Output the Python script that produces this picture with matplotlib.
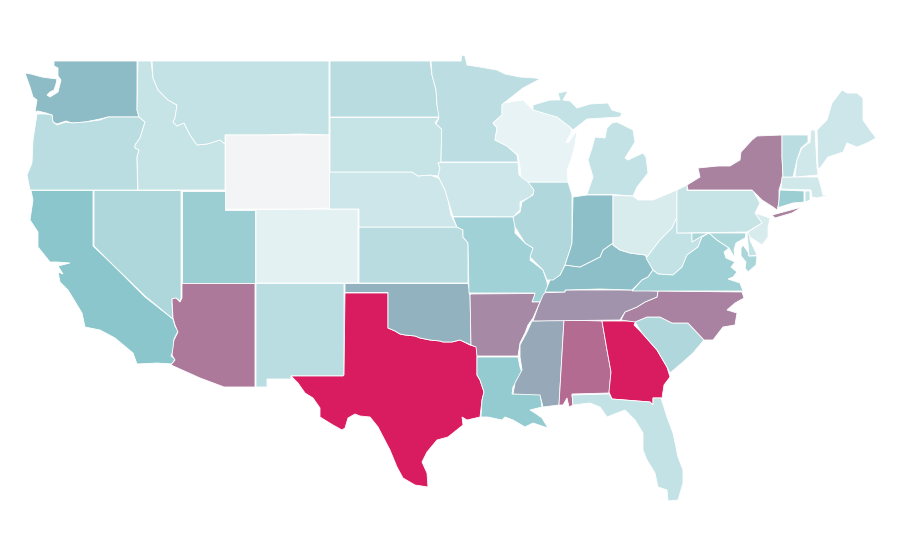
import matplotlib
matplotlib.use("Agg")
import matplotlib.pyplot as plt
from matplotlib.colors import LinearSegmentedColormap, Normalize
from matplotlib.patches import Polygon

# index value per state
states = ["WA", "OR", "CA", "NV", "ID", "MT", "WY", "UT", "CO", "AZ", "NM", "TX", "OK", "KS", "NE",
          "SD", "ND", "MN", "IA", "MO", "AR", "LA", "MS", "AL", "GA", "FL", "SC", "NC", "TN", "KY",
          "IL", "WI", "MI", "IN", "OH", "WV", "VA", "MD", "DE", "NJ", "PA", "NY", "CT", "RI", "MA",
          "VT", "NH", "ME"]
values = [34, 16.5, 30, 20, 13, 14, 0, 25, 5, 61.5, 16.5, 100, 38, 17, 11,
          13, 17, 16, 11, 23.5, 55, 27, 42, 67, 100, 14, 19.5, 57.5, 51, 33,
          19.5, 3.7, 14, 33, 8, 14, 24, 21, 14, 8, 13, 58, 25, 14, 10,
          16.5, 10, 11]

# state outlines in picture pixels; a state may have more than one piece
outlines = {
    "WA": [[(54, 61), (137, 61), (137, 110), (139, 117), (108, 117), (100, 119), (85, 122), (72, 123), (66, 121),
            (57, 124), (53, 122), (52, 115), (46, 113), (38, 111), (35, 112), (37, 100), (33, 97), (30, 87),
            (25, 73), (31, 74), (42, 77), (49, 78), (57, 79), (56, 84), (54, 90), (50, 92), (47, 95), (50, 97),
            (58, 92), (61, 80), (58, 76), (58, 68), (54, 66)]],
    "OR": [[(37, 114), (46, 114), (52, 115), (53, 122), (57, 125), (66, 122), (72, 123), (85, 122), (100, 120),
            (108, 117), (139, 117), (145, 122), (140, 138), (135, 145), (135, 148), (139, 150), (137, 157),
            (137.5, 190), (30, 190), (27, 175), (32, 163), (33, 140)]],
    "CA": [[(31, 190.5), (93, 190.5), (93, 246), (110, 262), (145, 297), (173, 319), (175, 326), (178, 331), (174, 339),
            (173, 351), (171, 356), (175, 359), (172, 364), (157, 363), (137, 364), (133, 353), (115, 338), (100, 330),
            (85, 327), (82, 313), (68, 290), (60, 282), (58, 272), (63, 274), (58, 266), (70, 263), (57, 262),
            (50, 262), (38, 247), (38, 232), (30, 220), (33, 200)]],
    "NV": [[(94, 190.5), (181, 190.5), (181, 298), (180, 301), (176, 298), (172, 299), (172, 304), (173, 319), (145, 296),
            (110, 262), (94, 246)]],
    "ID": [[(138, 61), (151, 61), (153, 78), (158, 90), (168, 100), (177, 105), (175, 118), (173, 122), (177, 126),
            (184, 123), (190, 135), (197, 145), (207, 144), (220, 140), (225, 144), (225, 190), (138, 190),
            (137, 157), (139, 150), (135, 148), (135, 145), (140, 138), (145, 122), (139, 117), (137, 110)]],
    "MT": [[(152, 61), (329, 61), (329, 135), (300, 134), (265, 135), (225, 135), (225, 144), (220, 140), (207, 144),
            (197, 145), (190, 135), (184, 123), (177, 126), (173, 122), (175, 118), (177, 105), (168, 100), (158, 90),
            (153, 78)]],
    "WY": [[(225.5, 135), (329, 135), (329.5, 208), (300, 209), (255, 209), (225.5, 209)]],
    "UT": [[(182, 190.5), (225, 190.5), (225, 209.5), (255, 209.5), (255, 283), (182, 283)]],
    "CO": [[(256, 209.5), (358, 209), (358, 283), (256, 283)]],
    "AZ": [[(182, 283.5), (255, 283.5), (255, 387), (224, 387), (200, 378), (171, 365), (175, 360), (172, 355), (174, 340),
            (178, 332), (175, 325), (173, 318), (172, 299), (176, 298), (180, 302), (182, 298)]],
    "NM": [[(256, 283.5), (344, 283.5), (344, 375), (343, 376), (291, 376), (291, 379), (267, 379), (267, 387), (256, 387)]],
    "TX": [[(345, 293), (388, 293), (388, 328), (395, 331), (400, 334), (405, 335), (415, 336), (420, 338), (430, 340),
            (440, 341), (443, 342), (452, 342), (460, 340), (470, 345), (477, 347), (477, 375), (480, 380), (484, 392),
            (482, 400), (480, 417), (467, 420), (462, 417), (463, 425), (448, 437), (437, 440), (427, 452), (422, 462),
            (427, 473), (428, 487), (415, 485), (403, 478), (397, 467), (390, 450), (378, 427), (370, 417), (360, 416),
            (355, 414), (348, 418), (345, 428), (342, 430), (333, 425), (320, 417), (320, 408), (313, 398), (305, 393),
            (298, 383), (291, 376), (343, 376), (344, 375)]],
    "OK": [[(345, 283.5), (468, 283.5), (470, 293), (471, 345), (460, 340), (452, 342), (443, 342), (440, 341), (430, 340),
            (420, 338), (415, 336), (405, 335), (400, 334), (395, 331), (388, 328), (388, 292.5), (345, 292.5)]],
    "KS": [[(359, 227), (457, 227), (463, 230), (463, 237), (468, 243), (468, 283), (359, 283)]],
    "NE": [[(329.5, 172), (412, 172), (418, 176), (430, 175), (438, 178), (440, 180), (445, 190), (448, 200), (451, 215),
            (457, 227), (359, 227), (359, 209), (329.5, 209)]],
    "SD": [[(330, 117.5), (439, 117.5), (435, 123), (441.6, 129), (441, 162), (438, 163), (440, 168), (438, 176), (430, 175),
            (418, 176), (412, 172), (330, 172)]],
    "ND": [[(330, 61), (430, 61), (432, 75), (436, 90), (437, 105), (440, 115), (439, 117), (330, 117)]],
    "MN": [[(431, 61), (461, 61), (461.6, 55), (465, 56), (467, 65), (480, 67), (497, 70), (505, 74), (520, 77), (535, 78),
            (540, 79), (523, 88), (504, 103), (502, 105), (502, 115), (493, 123), (497, 128), (495, 140), (507, 146),
            (517, 155), (518, 162), (441, 162), (441.6, 129), (436, 124), (439, 118), (437, 105), (436, 90), (432, 75)]],
    "IA": [[(441.5, 162.5), (518, 162.5), (519, 175), (528, 180), (535, 192), (530, 197), (520, 202), (520, 210), (513, 217),
            (453, 216.5), (448, 200), (445, 190), (440, 180), (438, 176), (440, 168), (438, 163)]],
    "MO": [[(453, 217), (513, 217), (515, 222), (515, 233), (525, 243), (533, 248), (530, 260), (543, 270), (547, 282),
            (548, 290), (540, 302), (532, 302), (535, 293), (469, 293), (468, 243), (463, 237), (463, 230), (457, 227)]],
    "AR": [[(469, 294), (535, 293.5), (532, 302), (540, 302), (533, 318), (528, 325), (525, 333), (520, 343), (518, 356),
            (477, 356), (476, 347), (471, 345), (470, 293)]],
    "LA": [[(477, 357), (518, 357), (520, 367), (522, 373), (513, 387), (512, 394), (540, 393), (542, 407), (530, 410),
            (535, 413), (542, 418), (548, 428), (533, 423), (525, 427), (513, 420), (505, 417), (502, 420), (488, 417),
            (481, 417), (482, 400), (484, 392), (480, 380), (477, 375)]],
    "MS": [[(532, 321), (564, 320), (559, 405), (543, 407), (540, 395), (513, 394), (515, 383), (522, 370), (520, 357),
            (520, 345), (527, 332)]],
    "AL": [[(564, 320), (602, 321), (607, 350), (611, 372), (609, 393), (572, 394), (573, 405), (569, 407), (567, 398),
            (563, 405), (559, 405)]],
    "GA": [[(602, 321), (636, 321), (634, 325), (642, 333), (657, 350), (667, 367), (670, 377), (664, 385), (662, 398),
            (653, 398), (653, 405), (650, 402), (612, 399), (609, 392), (611, 372), (607, 350)]],
    "FL": [[(572, 395), (609, 394), (612, 399), (650, 402), (653, 405), (653, 398), (661, 398), (667, 417), (673, 433),
            (678, 457), (683, 470), (683, 483), (678, 500), (668, 501), (667, 490), (658, 487), (655, 473), (647, 460),
            (643, 450), (643, 433), (635, 420), (625, 410), (617, 413), (607, 417), (600, 407), (590, 403), (573, 405)]],
    "SC": [[(635, 322), (647, 317), (660, 317), (672, 323), (688, 323), (704, 340), (693, 353), (683, 362), (670, 373),
            (667, 367), (657, 350), (642, 333)]],
    "NC": [[(658, 291), (742, 292), (744, 298), (735, 303), (727, 310), (737, 313), (735, 325), (723, 327), (713, 340),
            (704, 340), (688, 323), (672, 323), (660, 317), (647, 317), (635, 322), (621, 320), (625, 312), (637, 307),
            (645, 302), (657, 297)]],
    "TN": [[(545, 292.7), (565, 292), (565, 290), (632, 290), (658, 291), (657, 297), (645, 302), (637, 307), (625, 312),
            (620, 320), (533, 321), (538, 307), (543, 295)]],
    "KY": [[(613, 245), (620, 250), (630, 253), (645, 255), (647, 258), (653, 270), (648, 277), (642, 280), (632, 290),
            (600, 289), (565, 290), (565, 292), (545, 292), (548, 285), (550, 280), (560, 275), (565, 265), (580, 267),
            (590, 262), (600, 257), (603, 250), (613, 243)]],
    "IL": [[(528, 182), (568, 182), (572, 195), (572, 243), (570, 250), (565, 265), (560, 275), (553, 280), (547, 280),
            (543, 270), (530, 257), (533, 248), (525, 243), (515, 227), (513, 217), (520, 212), (522, 202), (533, 195),
            (534, 190)]],
    "WI": [[(502, 105), (504, 103), (523, 100), (533, 110), (557, 117), (570, 127), (572, 131), (566, 142), (568, 143),
            (577, 130), (575, 145), (571, 160), (567, 170), (568, 182), (528, 182), (521, 177), (520, 167), (518, 155),
            (507, 146), (495, 140), (497, 128), (493, 123), (502, 115)]],
    "MI": [[(533, 105), (550, 100), (560, 100), (558, 93), (568, 91), (563, 100), (570, 101), (577, 108), (590, 104),
            (608, 103), (612, 110), (622, 113), (620, 117), (587, 119), (573, 130), (570, 127), (557, 117), (533, 110)],
           [(607, 128), (612, 123), (617, 122), (633, 130), (635, 142), (625, 158), (628, 160), (643, 153), (646, 157),
            (648, 173), (637, 187), (633, 196), (613, 194.5), (587, 194.5), (593, 177), (588, 160), (592, 148),
            (595, 137), (605, 138)]],
    "IN": [[(573, 197), (580, 196), (587, 195), (613, 195), (613, 243), (603, 250), (600, 257), (590, 262), (580, 267),
            (565, 265), (570, 250), (572, 243)]],
    "OH": [[(613, 195.5), (633, 196), (638, 200), (653, 200), (677, 190), (677, 217), (672, 228), (660, 240), (647, 257),
            (645, 255), (630, 253), (620, 250), (613, 245)]],
    "WV": [[(647, 257), (660, 240), (672, 228), (677, 217), (677, 233), (692, 233), (692, 242), (705, 233), (709, 233),
            (702, 237), (698, 247), (687, 255), (682, 267), (673, 275), (658, 274), (653, 270), (646, 258)]],
    "VA": [[(632, 291), (642, 280), (648, 277), (653, 270), (658, 274), (673, 275), (682, 267), (687, 255), (698, 247),
            (702, 237), (709, 233), (717, 240), (729, 248), (724, 252), (726, 258), (735, 262), (731, 267), (737, 272),
            (733, 277), (728, 279), (740, 283), (743, 291)]],
    "MD": [[(692, 233), (746, 233), (745, 238), (736, 243), (734, 250), (735, 258), (729, 248), (717, 240), (709, 233),
            (702, 236), (692, 242)],
           [(743, 245), (748, 252), (749, 256), (757, 256), (756, 265), (748, 272), (745, 268), (746, 262), (741, 256),
            (741, 248)]],
    "DE": [[(747, 233), (750, 232), (750, 240), (757, 255), (749, 256)]],
    "NJ": [[(755, 213), (770, 218), (768, 228), (768, 237), (762, 245), (750, 237), (748, 232), (762, 223)]],
    "PA": [[(677, 190), (687, 185), (687, 190.5), (753, 190.5), (760, 203), (755, 213), (762, 223), (747, 232), (677, 233)]],
    "NY": [[(688, 190), (687, 185), (700, 177), (698, 168), (718, 166), (730, 166), (740, 160), (741, 152), (752, 140),
            (757, 136), (782, 135), (782, 157), (783, 177), (779, 190), (779, 203), (777, 210), (773, 207), (762, 200),
            (757, 195), (752, 190)],
           [(772, 215), (802, 207), (792, 213), (775, 218)]],
    "CT": [[(780, 190), (804, 191), (804, 202), (793, 203), (780, 207), (778, 208), (779, 200)]],
    "RI": [[(805, 191), (810, 191), (810, 200), (805, 202)]],
    "MA": [[(782, 177), (815, 177), (818, 177), (820, 183), (823, 195), (830, 195), (817, 198), (812, 197), (811, 190),
            (781, 189)]],
    "VT": [[(782, 135), (808, 135), (808, 142), (801, 148), (797, 160), (793, 177), (783, 177), (782, 157)]],
    "NH": [[(811, 130), (815, 130), (817, 167), (818, 175), (795, 177), (797, 160), (802, 148), (810, 142)]],
    "ME": [[(817, 130), (827, 120), (832, 103), (842, 90), (847, 93), (857, 93), (863, 98), (863, 120), (870, 130),
            (876, 138), (867, 143), (857, 147), (847, 143), (843, 152), (828, 157), (820, 168), (818, 168)]],
}

cmap = LinearSegmentedColormap.from_list(
    "teal_crimson",
    [(0, "#f3f4f6"), (0.037, "#e6f3f5"), (0.13, "#c6e3e6"), (0.3, "#89c6cc"), (1, "#d91b5f")])
norm = Normalize(0, 100)

fig, ax = plt.subplots(figsize=(9, 5.6), dpi=100)
fig.subplots_adjust(0, 0, 1, 1)

for state, value in zip(states, values):
    for piece in outlines[state]:
        ax.add_patch(Polygon(piece, closed=True, facecolor=cmap(norm(value)), edgecolor="white", linewidth=0.6))

ax.set_xlim(0, 900)
ax.set_ylim(560, 0)
ax.axis("off")

fig.savefig("out.png", dpi=100, facecolor="white")
plt.close(fig)
